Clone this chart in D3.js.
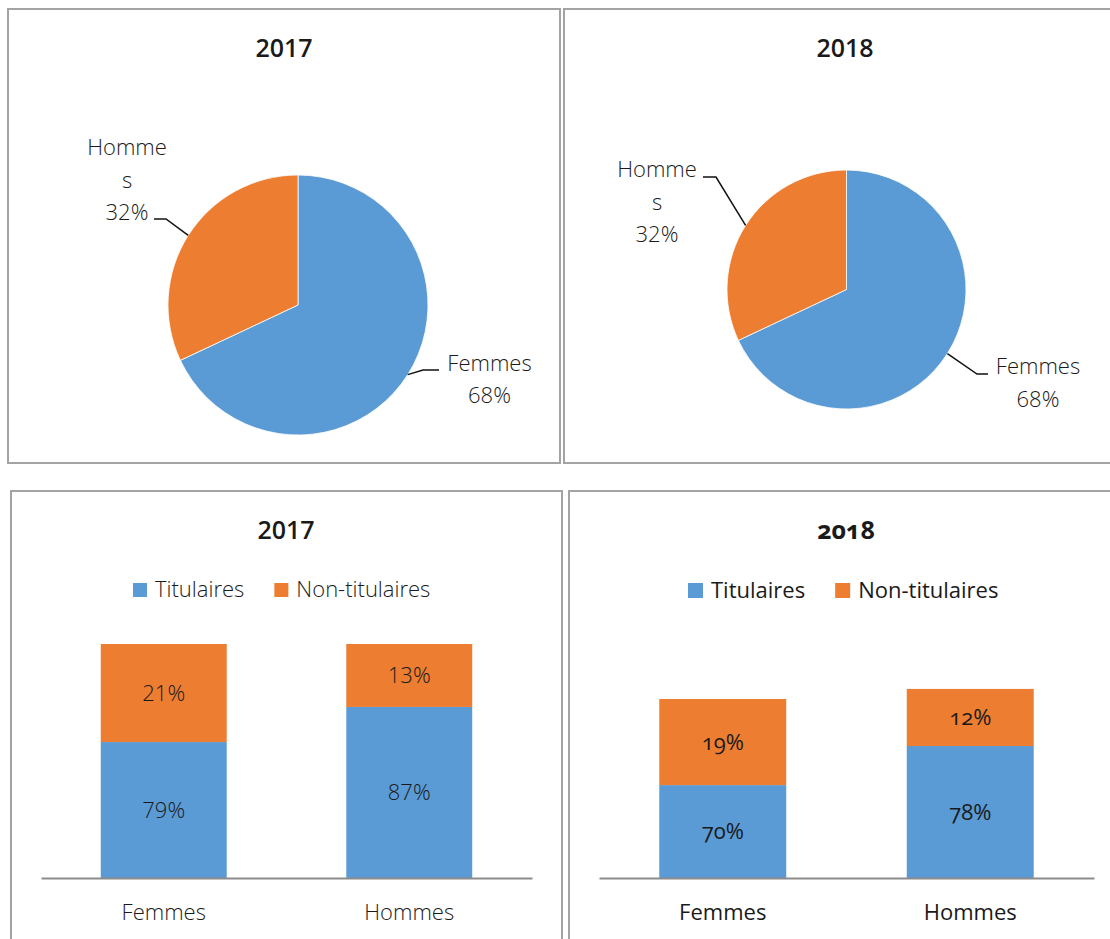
<!DOCTYPE html>
<html>
<head>
<meta charset="utf-8">
<script src="https://cdn.jsdelivr.net/npm/d3@7"></script>
<style>
  body { margin: 0; background: #fff; }
  svg text { font-family: "Open Sans", "DejaVu Sans", sans-serif; fill: #1a1a1a; }
</style>
</head>
<body>
<svg width="1110" height="939"></svg>
<script>
// pie data (both years)
var pieCats = ["Femmes", "Hommes"];
var pie2017 = [68, 32];
var pie2018 = [68, 32];
var pieLabels2017 = [["Femmes", "68%"], ["Homme", "s", "32%"]];
var pieLabels2018 = [["Femmes", "68%"], ["Homme", "s", "32%"]];

// stacked bars: heights as drawn, labels as printed
var barCats = ["Femmes", "Hommes"];
var series = ["Titulaires", "Non-titulaires"];
var tit2017 = [58.1, 73.1];
var non2017 = [41.9, 26.9];
var titLab2017 = ["79%", "87%"];
var nonLab2017 = ["21%", "13%"];
var tit2018 = [39.7, 56.4];
var non2018 = [36.8, 24.4];
var titLab2018 = ["70%", "78%"];
var nonLab2018 = ["19%", "12%"];

var colors = ["#5B9BD5", "#ED7D31"];
var svg = d3.select("svg");
var lightW = 350;

// panel frames
function frame(x, y, w, h) {
    svg.append("rect").attr("x", x).attr("y", y).attr("width", w).attr("height", h)
        .attr("fill", "none").attr("stroke", "#a3a3a3").attr("stroke-width", 2);
}
frame(8, 9, 552, 454);
frame(564, 9, 560, 454);
frame(11, 491, 551, 460);
frame(569, 491, 560, 460);

function title(x, y, txt, old) {
    var t = svg.append("text").attr("x", x).attr("y", y).attr("text-anchor", "middle")
        .attr("font-size", "25px").attr("font-weight", old ? 700 : 600).text(txt);
    if (old) t.style("font-variant-numeric", "oldstyle-nums");
}

// pie with leader-line labels
function drawPie(cx, cy, r, values, labels, lay) {
    var g = svg.append("g").attr("transform", "translate(" + cx + "," + cy + ")");
    var arcs = d3.pie().sort(null)(values);
    var arc = d3.arc().innerRadius(0).outerRadius(r);
    g.selectAll("path").data(arcs).enter().append("path")
        .attr("d", arc)
        .attr("fill", function(d, i) { return colors[i]; })
        .attr("stroke", "#fff").attr("stroke-width", 0.8);

    arcs.forEach(function(a, i) {
        var mid = (a.startAngle + a.endAngle) / 2;
        var ex = Math.sin(mid) * r, ey = -Math.cos(mid) * r;
        var L = lay[i];
        svg.append("polyline")
            .attr("points", [[cx + ex, cy + ey], L.elbow, L.end].map(function(p) { return p.join(","); }).join(" "))
            .attr("fill", "none").attr("stroke", "#111").attr("stroke-width", 1.5);
        labels[i].forEach(function(line, k) {
            svg.append("text").attr("x", L.tx).attr("y", L.ty + k * L.lh)
                .attr("text-anchor", "middle").attr("font-size", "22px").attr("font-weight", lightW)
                .text(line);
        });
    });
}

title(284, 57, "2017");
drawPie(298, 305, 130, pie2017, pieLabels2017, [
    { elbow: [423, 370], end: [439, 370], tx: 489.5, ty: 371, lh: 32 },
    { elbow: [166, 219], end: [154, 219], tx: 127, ty: 155, lh: 32.5 }
]);

title(845, 57, "2018");
drawPie(846.5, 289.5, 119.5, pie2018, pieLabels2018, [
    { elbow: [977, 374], end: [988, 374], tx: 1038, ty: 374, lh: 33 },
    { elbow: [716, 177], end: [703, 177], tx: 657, ty: 177, lh: 32.5 }
]);

// stacked bar chart
function drawBars(x0, x1, tit, non, titLab, nonLab, legX, legY, sq, old) {
    var x = d3.scaleBand().domain(barCats).range([x0, x1]).paddingInner(0.487).paddingOuter(0.2435);
    var y = d3.scaleLinear().domain([0, 100]).range([878, 644]);
    var rows = barCats.map(function(c, i) { return { cat: c, Titulaires: tit[i], "Non-titulaires": non[i], labs: [titLab[i], nonLab[i]] }; });
    var stack = d3.stack().keys(series)(rows);
    var g = svg.append("g");

    stack.forEach(function(s, si) {
        g.selectAll(null).data(s).enter().append("rect")
            .attr("x", function(d) { return x(d.data.cat); })
            .attr("y", function(d) { return y(d[1]); })
            .attr("width", x.bandwidth())
            .attr("height", function(d) { return y(d[0]) - y(d[1]); })
            .attr("fill", colors[si]);
        g.selectAll(null).data(s).enter().append("text")
            .attr("x", function(d) { return x(d.data.cat) + x.bandwidth() / 2; })
            .attr("y", function(d) { return (y(d[0]) + y(d[1])) / 2; })
            .attr("dy", "0.36em")
            .attr("text-anchor", "middle").attr("font-size", "22px").attr("font-weight", old ? 400 : lightW)
            .style("font-variant-numeric", old ? "oldstyle-nums" : null)
            .text(function(d) { return d.data.labs[si]; });
    });

    // axis
    var ax = g.append("g").attr("transform", "translate(0,878)")
        .call(d3.axisBottom(x).tickSize(0).tickPadding(26).tickSizeOuter(0));
    ax.select(".domain").attr("stroke", "#8c8c8c").attr("stroke-width", 1.8);
    ax.selectAll(".tick text").attr("font-size", "22px").attr("font-weight", old ? 400 : lightW)
        .attr("font-family", null).attr("fill", "#1a1a1a");

    // legend
    var lx = legX;
    series.forEach(function(s, i) {
        svg.append("rect").attr("x", lx).attr("y", legY - sq).attr("width", sq).attr("height", sq).attr("fill", colors[i]);
        var t = svg.append("text").attr("x", lx + sq + 8).attr("y", legY)
            .attr("font-size", "22px").attr("font-weight", old ? 400 : lightW).text(s);
        lx = lx + sq + 8 + t.node().getComputedTextLength() + 30;
    });
}

title(286, 539, "2017");
drawBars(41, 532, tit2017, non2017, titLab2017, nonLab2017, 133, 597, 14, false);

title(846, 539, "2018", true);
drawBars(599, 1094, tit2018, non2018, titLab2018, nonLab2018, 688, 598, 15, true);
</script>
</body>
</html>
